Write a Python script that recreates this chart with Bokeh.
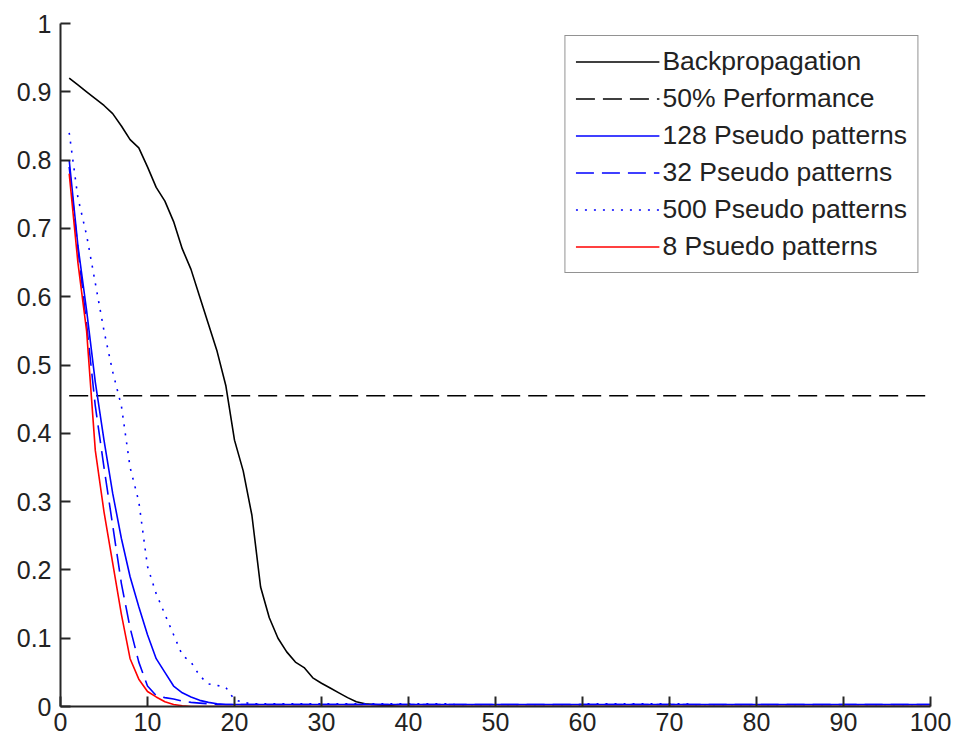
from bokeh.plotting import figure
from bokeh.models import (Range1d, FixedTicker, CustomJSTickFormatter, Legend, LegendItem)
from bokeh.embed import file_html
from bokeh.resources import INLINE

epochs = list(range(1, 101))

backprop = [0.92, 0.91, 0.90, 0.89, 0.88, 0.868, 0.85, 0.83, 0.818, 0.79,
            0.76, 0.74, 0.71, 0.67, 0.64, 0.60, 0.56, 0.52, 0.47, 0.39,
            0.345, 0.28, 0.175, 0.13, 0.10, 0.08, 0.065, 0.057, 0.042, 0.034,
            0.027, 0.02, 0.013, 0.007, 0.004, 0.003, 0.002, 0.001, 0, 0] + [0] * 60

pseudo_128 = [0.80, 0.675, 0.58, 0.475, 0.39, 0.312, 0.246, 0.19, 0.146, 0.105,
              0.07, 0.05, 0.03, 0.02, 0.014, 0.009, 0.006, 0.004] + [0.003] * 82

pseudo_32 = [0.79, 0.67, 0.56, 0.44, 0.35, 0.265, 0.18, 0.115, 0.065, 0.03,
             0.016, 0.013, 0.011, 0.008, 0.006, 0.005, 0.004] + [0.003] * 83

pseudo_500 = [0.84, 0.745, 0.69, 0.62, 0.55, 0.49, 0.44, 0.35, 0.30, 0.205,
              0.165, 0.135, 0.105, 0.075, 0.065, 0.045, 0.033, 0.031, 0.028, 0.01,
              0.006] + [0.004] * 24 + [0] * 14 + [0.004] * 13 + [0] * 28

pseudo_8 = [0.78, 0.65, 0.55, 0.375, 0.285, 0.21, 0.135, 0.07, 0.04, 0.022,
            0.014, 0.007, 0.003, 0.001] + [0] * 86

perf_level = 0.455

x_ticks = [0, 10, 20, 30, 40, 50, 60, 70, 80, 90, 100]
y_ticks = [0, 0.1, 0.2, 0.3, 0.4, 0.5, 0.6, 0.7, 0.8, 0.9, 1.0]

labels = ["Backpropagation", "50% Performance", "128 Pseudo patterns",
          "32 Pseudo patterns", "500 Pseudo patterns", "8 Psuedo patterns"]

p = figure(width=956, height=747, output_backend="svg", toolbar_location=None,
           x_range=Range1d(0, 100), y_range=Range1d(0, 1),
           min_border_left=60, min_border_right=26, min_border_top=23, min_border_bottom=41)
p.background_fill_color = "white"
p.border_fill_color = "white"
p.outline_line_color = None
p.xgrid.visible = False
p.ygrid.visible = False

FONT = "Liberation Sans"
for ax in (p.xaxis[0], p.yaxis[0]):
    ax.axis_line_color = "#262626"
    ax.axis_line_width = 2
    ax.major_tick_line_color = "#262626"
    ax.major_tick_line_width = 2
    ax.major_tick_in = 10
    ax.major_tick_out = 0
    ax.minor_tick_line_color = None
    ax.major_label_text_font = FONT
    ax.major_label_text_font_size = "25px"
    ax.major_label_text_color = "#222222"
p.xaxis[0].ticker = FixedTicker(ticks=x_ticks)
p.yaxis[0].ticker = FixedTicker(ticks=y_ticks)
p.yaxis[0].formatter = CustomJSTickFormatter(code="return String(Math.round(tick*10)/10)")
p.xaxis[0].major_label_standoff = 6
p.yaxis[0].major_label_standoff = 9

lw = 1.6
r_bp = p.line(epochs, backprop, line_color="black", line_width=lw)
r_perf = p.line([epochs[0], epochs[-1]], [perf_level, perf_level], line_color="black",
                line_width=lw, line_dash="19 8")
r_128 = p.line(epochs, pseudo_128, line_color="blue", line_width=lw)
r_32 = p.line(epochs, pseudo_32, line_color="blue", line_width=lw, line_dash="18 8")
r_500 = p.line(epochs, pseudo_500, line_color="blue", line_width=lw, line_dash="2 7")
r_8 = p.line(epochs, pseudo_8, line_color="red", line_width=lw)

items = [LegendItem(label=l, renderers=[r]) for l, r in
         zip(labels, [r_bp, r_perf, r_128, r_32, r_500, r_8])]
legend = Legend(items=items, location="top_right", margin=12,
                label_text_font=FONT, label_text_font_size="26.5px", label_text_color="#222222",
                glyph_width=84, glyph_height=29, label_height=29, label_standoff=3,
                spacing=6, padding=10,
                border_line_color="#262626", border_line_width=1.5,
                background_fill_color="white", background_fill_alpha=1.0)
p.add_layout(legend, "center")

open("out.html", "w").write(file_html(p, INLINE))
